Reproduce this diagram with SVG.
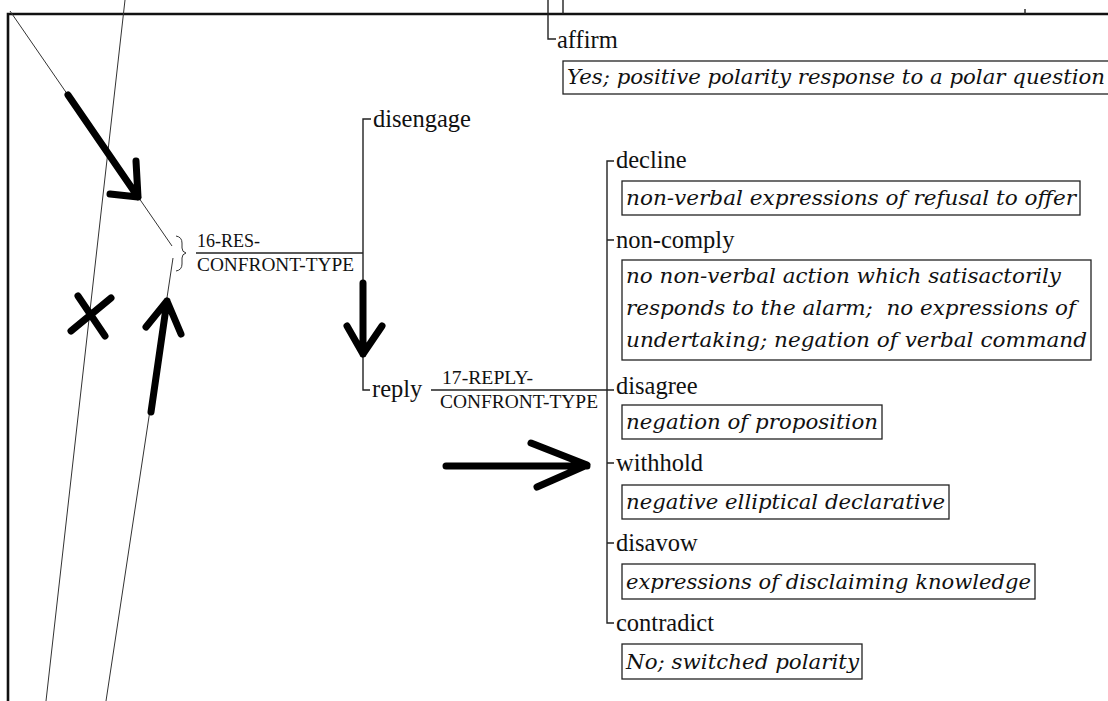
<svg xmlns="http://www.w3.org/2000/svg" width="1108" height="701" viewBox="0 0 1108 701">
<style>
.lbl{font-family:"Liberation Serif","Times New Roman",serif;font-size:24.5px;fill:#111}
.sm{font-family:"Liberation Serif","Times New Roman",serif;font-size:18px;fill:#111}
.desc{font-family:"DejaVu Serif","Liberation Serif",serif;font-style:italic;font-size:20px;fill:#111;white-space:pre}
.box{fill:#fff;stroke:#222;stroke-width:1.3}
.ln{stroke:#222;stroke-width:1.4;fill:none}
.thin{stroke:#333;stroke-width:1;fill:none}
.frame{stroke:#111;stroke-width:2.6;fill:none}
.ink{stroke:#000;stroke-width:7;fill:none;stroke-linecap:round;stroke-linejoin:round}
</style>
<rect width="1108" height="701" fill="#fff"/>
<!-- frame -->
<path class="frame" d="M8,701 V14 H1108"/>
<!-- top ticks above frame -->
<path class="ln" d="M563,0 V14 M1025,9 V14"/>
<!-- thin sketch lines -->
<g id="sketch-lines">
<path class="thin" d="M10,11 L172,246"/>
<path class="thin" d="M125,0 L46,701"/>
<path class="thin" d="M173,258 L106,701"/>
<path class="thin" d="M176,236 Q182,237 182,243 V248 Q182,252 186,253 Q182,254 182,258 V264 Q182,270 176,271"/>
</g>
<g id="connectors">
<path class="ln" d="M548,0 V39 H556"/>
<path class="ln" d="M371,119 H363 V390 H370"/>
<path class="ln" d="M196,253 H363"/>
<path class="ln" d="M431,390 H607"/>
<path class="ln" d="M614,161 H607 V623 H614 M607,240 H614 M607,390 H614 M607,463 H614 M607,543 H614"/>
</g>
<g id="res-confront">
<text class="sm" x="197" y="247" textLength="63" lengthAdjust="spacingAndGlyphs">16-RES-</text>
<text class="sm" x="197" y="271" textLength="157" lengthAdjust="spacingAndGlyphs">CONFRONT-TYPE</text>
</g>
<g id="disengage"><text class="lbl" x="373" y="127">disengage</text></g>
<g id="reply"><text class="lbl" x="372" y="397">reply</text></g>
<g id="reply-confront">
<text class="sm" x="442" y="384" textLength="91" lengthAdjust="spacingAndGlyphs">17-REPLY-</text>
<text class="sm" x="440" y="408" textLength="158" lengthAdjust="spacingAndGlyphs">CONFRONT-TYPE</text>
</g>
<g id="affirm">
<text class="lbl" x="557" y="48">affirm</text>
<rect class="box" x="563" y="61" width="560" height="33"/>
<text class="desc" x="567" y="84" textLength="538" lengthAdjust="spacingAndGlyphs">Yes; positive polarity response to a polar question</text>
</g>
<g id="decline">
<text class="lbl" x="616" y="168">decline</text>
<rect class="box" x="622" y="181" width="458" height="34"/>
<text class="desc" x="626" y="205" textLength="450" lengthAdjust="spacingAndGlyphs">non-verbal expressions of refusal to offer</text>
</g>
<g id="non-comply">
<text class="lbl" x="616" y="248">non-comply</text>
<rect class="box" x="622" y="260" width="469" height="100"/>
<text class="desc" x="626" y="283" textLength="435" lengthAdjust="spacingAndGlyphs">no non-verbal action which satisactorily</text>
<text class="desc" x="626" y="315" textLength="450" lengthAdjust="spacingAndGlyphs">responds to the alarm;  no expressions of</text>
<text class="desc" x="626" y="347" textLength="461" lengthAdjust="spacingAndGlyphs">undertaking; negation of verbal command</text>
</g>
<g id="disagree">
<text class="lbl" x="616" y="394">disagree</text>
<rect class="box" x="622" y="405" width="260" height="34"/>
<text class="desc" x="626" y="429" textLength="252" lengthAdjust="spacingAndGlyphs">negation of proposition</text>
</g>
<g id="withhold">
<text class="lbl" x="616" y="471">withhold</text>
<rect class="box" x="622" y="485" width="327" height="34"/>
<text class="desc" x="626" y="509" textLength="319" lengthAdjust="spacingAndGlyphs">negative elliptical declarative</text>
</g>
<g id="disavow">
<text class="lbl" x="616" y="551">disavow</text>
<rect class="box" x="622" y="564" width="413" height="35"/>
<text class="desc" x="626" y="589" textLength="405" lengthAdjust="spacingAndGlyphs">expressions of disclaiming knowledge</text>
</g>
<g id="contradict">
<text class="lbl" x="616" y="631">contradict</text>
<rect class="box" x="622" y="644" width="240" height="35"/>
<text class="desc" x="626" y="669" textLength="233" lengthAdjust="spacingAndGlyphs">No; switched polarity</text>
</g>
<g id="hand-marks">
<path class="ink" d="M68,95 L138,197 M136,161 L138,197 L110,194"/>
<path class="ink" d="M363,283 V354 M347,326 L363,354 L382,326"/>
<path class="ink" d="M151,412 L167,301 M146,327 L167,301 L181,334"/>
<path class="ink" d="M78,296 L105,336 M111,298 L71,331"/>
<path class="ink" d="M446,466 H587 M531,443 L587,465 L537,487"/>
</g>
</svg>
